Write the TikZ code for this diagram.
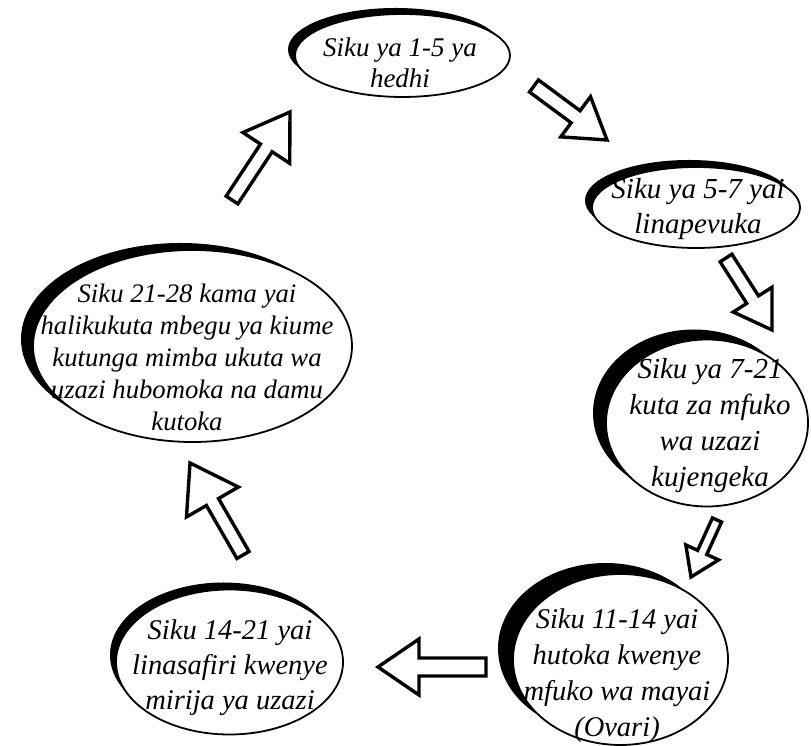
\documentclass[tikz,border=0pt]{standalone}
\usepackage{fontspec}
\setmainfont{Liberation Serif}
\usetikzlibrary{shapes.geometric,shadows,calc}
\tikzset{
  ell/.style={ellipse, draw=black, line width=1.8pt, fill=white, inner sep=0pt},
  shd/.style 2 args={drop shadow={shadow xshift=#1pt, shadow yshift=#2pt, fill=black, opacity=1}},
  txt/.style={align=center, inner sep=0pt},
  barrow/.style={draw=black, line width=3.4pt, fill=white, line join=miter},
}
\newcommand{\blockarrow}[5]{%
  \draw[barrow] let \p1=(#1), \p2=(#2), \n1={atan2(\y2-\y1,\x2-\x1)}, \n2={veclen(\x2-\x1,\y2-\y1)} in
  ($(\p1)+(\n1+90:#3)$) -- ($(\p1)+(\n1:{\n2-#5})+(\n1+90:#3)$) --
  ($(\p1)+(\n1:{\n2-#5})+(\n1+90:#4)$) -- (\p2) --
  ($(\p1)+(\n1:{\n2-#5})+(\n1-90:#4)$) -- ($(\p1)+(\n1:{\n2-#5})+(\n1-90:#3)$) --
  ($(\p1)+(\n1-90:#3)$) -- cycle;}
\begin{document}
\begin{tikzpicture}[x=1pt,y=1pt]
\useasboundingbox (0,0) rectangle (811,746);
% ellipses
\node[ell, shd={-7}{6}, minimum width=215pt, minimum height=83pt] (e1) at (402.5,690.5) {};
\node[txt, font=\fontsize{27}{31}\selectfont\itshape] (t1) at (400,683.5) {Siku ya 1-5 ya\\hedhi};

\node[ell, shd={-7}{7}, minimum width=208pt, minimum height=81pt] (e2) at (696,538.5) {};
\node[txt, font=\fontsize{29}{35}\selectfont\itshape] (t2) at (698,536.5) {Siku ya 5-7 yai\\linapevuka};

\node[ell, shd={-13}{10}, minimum width=202pt, minimum height=167pt] (e3) at (707,323) {};
\node[txt, font=\fontsize{29}{36}\selectfont\itshape] (t3) at (710,320) {Siku ya 7-21\\kuta za mfuko\\wa uzazi\\kujengeka};

\node[ell, shd={-15}{11}, minimum width=215pt, minimum height=171pt] (e4) at (620.5,86.5) {};
\node[txt, font=\fontsize{28.5}{36}\selectfont\itshape] (t4) at (617,70) {Siku 11-14 yai\\hutoka kwenye\\mfuko wa mayai\\(Ovari)};

\node[ell, shd={-6}{7}, minimum width=227pt, minimum height=145pt] (e5) at (229.5,84) {};
\node[txt, font=\fontsize{28.5}{35}\selectfont\itshape] (t5) at (230,78) {Siku 14-21 yai\\linasafiri kwenye\\mirija ya uzazi};

\node[ell, shd={-12}{7}, minimum width=319pt, minimum height=192pt] (e6) at (192.5,400) {};
\node[txt, font=\fontsize{26.7}{32}\selectfont\itshape] (t6) at (187,388.5) {Siku 21-28 kama yai\\halikukuta mbegu ya kiume\\kutunga mimba ukuta wa\\uzazi hubomoka na damu\\kutoka};

% arrow end points
\coordinate (a1s) at (534,660); \coordinate (a1e) at (607,606);
\coordinate (a2s) at (726,488); \coordinate (a2e) at (772,416);
\coordinate (a3s) at (717,226); \coordinate (a3e) at (691,169);
\coordinate (a4s) at (486,79);  \coordinate (a4e) at (378,79);
\coordinate (a5s) at (243,191); \coordinate (a5e) at (190,283);
\coordinate (a6s) at (232,546); \coordinate (a6e) at (290,634);

\blockarrow{a1s}{a1e}{7.5}{25}{39}
\blockarrow{a2s}{a2e}{7}{23}{36}
\blockarrow{a3s}{a3e}{5}{18}{27}
\blockarrow{a4s}{a4e}{9}{28}{41}
\blockarrow{a5s}{a5e}{7}{30}{45}
\blockarrow{a6s}{a6e}{7}{28}{43}
\end{tikzpicture}
\end{document}
